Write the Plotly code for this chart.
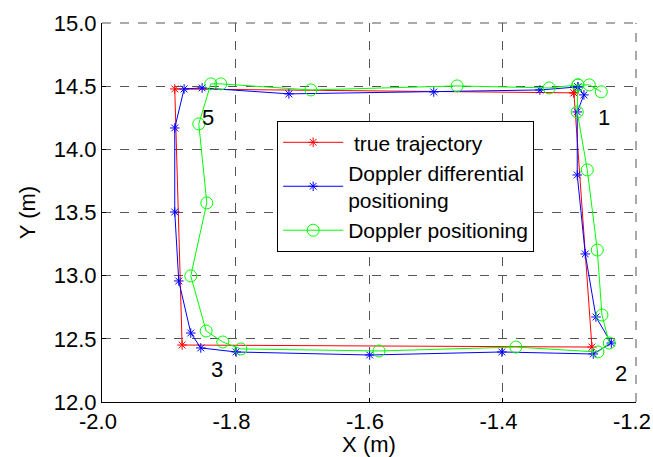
import plotly.graph_objects as go

true_x = [-1.293, -1.266, -1.880, -1.891, -1.293]
true_y = [14.447, 12.435, 12.451, 14.478, 14.447]

dd_x = [-1.287, -1.278, -1.288, -1.288, -1.276, -1.260, -1.237, -1.264, -1.401, -1.599,
        -1.799, -1.852, -1.867, -1.885, -1.891, -1.891, -1.877, -1.850, -1.720, -1.503,
        -1.344, -1.287]
dd_y = [14.494, 14.431, 14.296, 13.797, 13.172, 12.673, 12.467, 12.380, 12.396, 12.372,
        12.396, 12.428, 12.546, 12.958, 13.504, 14.169, 14.478, 14.486, 14.439, 14.454,
        14.470, 14.494]

dp_x = [-1.252, -1.270, -1.287, -1.288, -1.273, -1.258, -1.251, -1.240, -1.257, -1.380,
        -1.585, -1.792, -1.819, -1.844, -1.867, -1.843, -1.855, -1.837, -1.822, -1.687,
        -1.468, -1.330, -1.287]
dp_y = [14.455, 14.510, 14.510, 14.296, 13.837, 13.203, 12.689, 12.467, 12.396, 12.435,
        12.404, 12.420, 12.475, 12.562, 12.998, 13.576, 14.201, 14.518, 14.518, 14.470,
        14.502, 14.486, 14.510]

label_text = ["1", "2", "3", "5"]
label_x = [-1.248, -1.222, -1.828, -1.841]
label_y = [14.255, 12.225, 12.255, 14.255]

x_ticks = [-2.0, -1.8, -1.6, -1.4, -1.2]
y_ticks = [12.0, 12.5, 13.0, 13.5, 14.0, 14.5, 15.0]

FONT = "Liberation Sans, Arial, sans-serif"
FS = 22

fig = go.Figure()
fig.add_trace(go.Scatter(x=true_x, y=true_y, mode="lines+markers", name=" true trajectory",
                         line=dict(color="#ff0000", width=1),
                         marker=dict(symbol="asterisk-open", size=8, line=dict(color="#ff0000", width=1))))
fig.add_trace(go.Scatter(x=dd_x, y=dd_y, mode="lines+markers", name="Doppler differential<br>positioning",
                         line=dict(color="#0000ff", width=1),
                         marker=dict(symbol="asterisk-open", size=8, line=dict(color="#0000ff", width=1))))
fig.add_trace(go.Scatter(x=dp_x, y=dp_y, mode="lines+markers", name="Doppler positioning",
                         line=dict(color="#00ff00", width=1),
                         marker=dict(symbol="circle-open", size=12, color="#00ff00", line=dict(color="#00ff00", width=1))))

for t, x, y in zip(label_text, label_x, label_y):
    fig.add_annotation(x=x, y=y, text=t, showarrow=False, font=dict(family=FONT, size=FS, color="black"))

# dashed frame on top and right edges (MATLAB grid at box edges)
fig.add_shape(type="line", xref="paper", yref="paper", x0=0, x1=1, y0=1, y1=1,
              line=dict(color="#555555", width=1, dash="dash"), layer="below")
fig.add_shape(type="line", xref="paper", yref="paper", x0=1, x1=1, y0=0, y1=1,
              line=dict(color="#555555", width=1, dash="dash"), layer="below")

axis_common = dict(showgrid=True, gridcolor="#555555", griddash="dash", gridwidth=1,
                   showline=True, linecolor="black", linewidth=1, ticks="inside", ticklen=4,
                   tickcolor="black", zeroline=False, mirror=False, automargin=False,
                   ticklabeloverflow="allow",
                   tickfont=dict(family=FONT, size=FS, color="black"))

fig.update_xaxes(range=[-2.0, -1.2], tickvals=x_ticks, ticktext=[f"{v:.1f}" for v in x_ticks],
                 ticklabelshift=-4,
                 title=dict(text="X (m)", font=dict(family=FONT, size=FS, color="black"), standoff=0),
                 **axis_common)
fig.update_yaxes(range=[12.0, 15.0], tickvals=y_ticks, ticktext=[f"{v:.1f}" for v in y_ticks],
                 title=dict(text="Y (m)", font=dict(family=FONT, size=FS, color="black"), standoff=12),
                 **axis_common)

fig.update_layout(width=653, height=457, margin=dict(l=102, r=17, t=23, b=55, autoexpand=False),
                  paper_bgcolor="white", plot_bgcolor="white",
                  font=dict(family=FONT, size=FS, color="black"),
                  legend=dict(x=0.328, y=0.741, xanchor="left", yanchor="top",
                              bgcolor="white", bordercolor="black", borderwidth=1,
                              font=dict(family=FONT, size=21), tracegroupgap=0, itemwidth=60),
                  showlegend=True)

fig.write_html("out.html")
